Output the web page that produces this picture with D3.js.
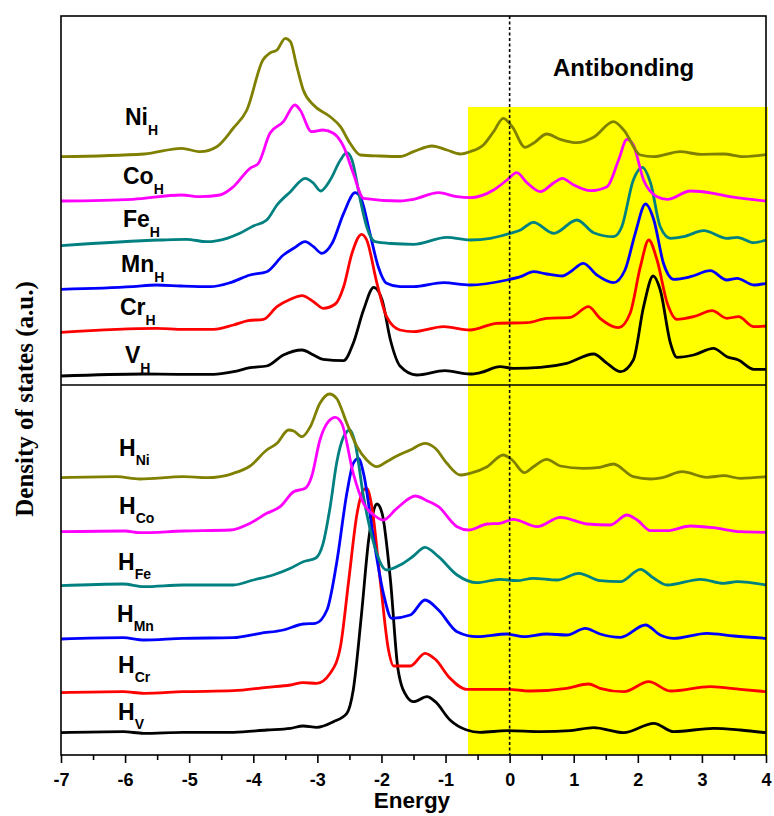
<!DOCTYPE html>
<html>
  <head>
    <script src="https://d3js.org/d3.v7.min.js" charset="utf-8"></script>
    <meta charset="UTF-8">
    <title>DOS stack</title>
    <style>
      body { margin: 0; background: #fff; }
      text { font-family: "Liberation Sans", Arial, sans-serif; font-weight: bold; }
    </style>
  </head>
  <body>
    <svg class="chart"></svg>
    <script type="text/javascript">

     // energy (eV) vs shifted DOS (a.u.)
     var niH = [[-7,22.83],[-5.7,23.1],[-5.12,23.67],[-4.83,23.33],[-4.57,23.83],[-4.31,25.7],[-4.1,27.5],[-3.85,32.5],[-3.74,33.2],[-3.63,33.5],[-3.5,34.67],[-3.42,34.33],[-3.32,31.83],[-3.22,29.5],[-3.06,28.0],[-2.8,26.83],[-2.64,25.83],[-2.49,24.17],[-2.33,23.0],[-2.02,22.9],[-1.71,22.85],[-1.5,23.33],[-1.21,23.9],[-0.98,23.5],[-0.77,23.1],[-0.62,23.33],[-0.41,24.0],[-0.25,25.33],[-0.1,26.67],[0.04,25.83],[0.24,23.77],[0.37,24.17],[0.58,25.1],[0.79,24.57],[1.05,24.23],[1.31,24.77],[1.62,26.33],[1.78,25.5],[2.04,23.0],[2.25,22.83],[2.66,23.33],[2.98,23.07],[3.34,23.1],[3.65,22.83],[4,23.03]];
     var coH = [[-7,18.4],[-5.88,18.57],[-5.12,19.0],[-4.83,18.83],[-4.52,19.0],[-4.31,19.83],[-4.05,21.67],[-3.92,22.17],[-3.74,25.17],[-3.53,26.33],[-3.35,28.0],[-3.27,27.5],[-3.09,25.33],[-2.91,25.5],[-2.75,25.17],[-2.59,23.83],[-2.44,21.17],[-2.28,18.67],[-1.71,18.4],[-1.5,18.57],[-1.11,19.23],[-0.82,18.83],[-0.62,18.73],[-0.25,19.5],[-0.04,20.5],[0.11,21.23],[0.27,20.23],[0.48,19.33],[0.69,20.23],[0.82,20.67],[1.0,20.0],[1.26,19.43],[1.52,19.83],[1.7,22.5],[1.83,24.57],[1.93,24.0],[2.09,20.5],[2.3,18.83],[2.46,18.57],[2.82,19.4],[3.18,19.17],[3.44,18.83],[4,18.4]];
     var feH = [[-7,13.93],[-5.45,14.5],[-5.04,14.57],[-4.73,14.33],[-4.41,14.67],[-4.21,15.17],[-4.0,15.9],[-3.79,16.5],[-3.63,18.0],[-3.42,19.33],[-3.19,20.67],[-3.06,20.17],[-2.95,19.4],[-2.8,20.5],[-2.64,22.5],[-2.54,23.23],[-2.46,22.5],[-2.33,18.5],[-2.23,15.83],[-2.1,14.33],[-1.85,14.15],[-1.5,14.07],[-0.98,14.77],[-0.62,14.5],[-0.3,14.67],[0.01,15.17],[0.17,15.5],[0.37,16.27],[0.69,15.17],[1.05,16.5],[1.31,15.23],[1.62,14.83],[1.75,15.83],[1.93,20.5],[2.07,21.77],[2.2,20.17],[2.35,15.83],[2.51,14.67],[2.71,14.83],[3.03,15.43],[3.39,14.67],[3.55,14.77],[3.81,14.23],[4,14.5]];
     var mnH = [[-7,9.57],[-5.88,9.83],[-5.51,10.0],[-5.13,9.9],[-4.67,9.83],[-4.36,10.23],[-4.05,11.0],[-3.79,11.33],[-3.53,13.0],[-3.37,13.67],[-3.19,14.33],[-3.06,13.83],[-2.93,13.17],[-2.77,14.17],[-2.59,17.17],[-2.41,19.23],[-2.31,18.5],[-2.18,15.17],[-2.05,11.83],[-1.92,10.17],[-1.71,9.83],[-1.5,9.83],[-1.03,10.23],[-0.62,10.0],[-0.04,10.5],[0.17,10.83],[0.37,11.33],[0.58,11.1],[0.82,10.9],[0.95,11.33],[1.15,12.17],[1.36,11.0],[1.62,10.23],[1.8,11.5],[1.96,15.17],[2.12,18.1],[2.25,16.5],[2.4,12.17],[2.56,10.57],[2.82,10.83],[3.13,11.43],[3.39,10.5],[3.55,10.67],[3.81,10.0],[4,10.17]];
     var crH = [[-7,5.27],[-5.51,5.67],[-5.09,5.57],[-4.62,5.57],[-4.31,6.0],[-4.08,6.43],[-3.84,6.57],[-3.63,7.83],[-3.42,8.57],[-3.24,8.93],[-3.06,8.33],[-2.91,7.67],[-2.72,8.1],[-2.59,9.83],[-2.46,13.17],[-2.31,15.07],[-2.23,14.5],[-2.07,10.17],[-1.92,6.83],[-1.71,5.5],[-1.5,5.33],[-1.03,5.83],[-0.62,5.5],[-0.2,6.17],[0.27,6.23],[0.58,6.67],[0.95,6.77],[1.23,7.83],[1.41,6.67],[1.7,5.73],[1.88,7.17],[2.04,11.83],[2.17,14.5],[2.3,12.5],[2.46,8.17],[2.61,6.57],[2.87,6.83],[3.16,7.43],[3.39,6.67],[3.57,6.83],[3.81,5.83],[4,5.9]];
     var vH = [[-7,0.9],[-5.71,1.1],[-5.18,1.07],[-4.62,1.07],[-4.31,1.33],[-4.05,1.73],[-3.79,1.9],[-3.53,3.0],[-3.24,3.5],[-3.06,3.0],[-2.91,2.57],[-2.59,2.43],[-2.44,4.17],[-2.28,7.5],[-2.12,9.77],[-1.99,8.5],[-1.86,4.5],[-1.71,1.9],[-1.45,1.0],[-1.01,1.43],[-0.62,1.1],[-0.46,1.23],[-0.15,1.83],[0.06,1.67],[0.48,1.77],[0.89,2.17],[1.31,3.1],[1.52,2.17],[1.73,1.33],[1.93,2.5],[2.09,7.83],[2.24,10.9],[2.35,9.5],[2.51,4.17],[2.61,2.77],[2.87,3.0],[3.18,3.67],[3.39,2.83],[3.57,2.5],[3.81,1.57],[4,1.57]];

     var hNi = [[-7,27.73],[-6.13,27.83],[-5.77,27.6],[-5.09,27.83],[-4.72,27.73],[-4.31,28.17],[-4.05,28.9],[-3.79,30.5],[-3.63,31.17],[-3.45,32.5],[-3.37,32.4],[-3.24,31.83],[-3.11,32.83],[-2.96,35.17],[-2.81,36.1],[-2.7,35.67],[-2.54,33.17],[-2.38,30.83],[-2.23,29.5],[-2.07,28.83],[-1.92,29.33],[-1.76,29.9],[-1.55,30.5],[-1.32,31.17],[-1.16,30.67],[-0.98,29.17],[-0.77,28.0],[-0.62,28.17],[-0.35,28.83],[-0.1,30.0],[0.04,29.5],[0.23,28.23],[0.37,28.83],[0.58,29.57],[0.79,28.9],[1.15,28.67],[1.41,28.77],[1.62,29.1],[1.93,27.83],[2.2,27.6],[2.4,27.77],[2.69,28.33],[3.08,27.77],[3.34,27.93],[3.6,27.67],[4,27.83]];
     var hCo = [[-7,22.33],[-6.0,22.4],[-5.77,22.23],[-5.09,22.4],[-4.36,22.5],[-4.05,23.17],[-3.79,24.17],[-3.58,24.83],[-3.37,26.33],[-3.19,26.67],[-3.09,27.83],[-2.96,31.5],[-2.83,33.33],[-2.72,33.77],[-2.62,33.17],[-2.44,28.17],[-2.28,25.17],[-2.12,24.0],[-1.97,23.5],[-1.76,24.67],[-1.47,25.9],[-1.29,25.43],[-1.11,24.83],[-0.82,22.83],[-0.64,22.5],[-0.35,23.1],[-0.15,23.17],[0.06,23.57],[0.43,22.83],[0.79,23.77],[1.21,23.1],[1.57,23.0],[1.83,24.0],[1.99,23.5],[2.2,22.43],[2.46,22.43],[2.82,22.9],[3.18,22.73],[3.6,22.33],[4,22.27]];
     var hFe = [[-7,16.93],[-6.03,17.1],[-5.71,16.83],[-5.09,17.0],[-4.31,17.0],[-4.0,17.5],[-3.69,18.0],[-3.42,18.67],[-3.22,19.33],[-3.03,19.67],[-2.91,21.17],[-2.8,24.83],[-2.7,29.17],[-2.59,31.83],[-2.49,32.5],[-2.41,31.17],[-2.28,25.83],[-2.12,21.17],[-1.92,18.5],[-1.71,19.0],[-1.5,19.9],[-1.32,20.77],[-1.11,19.83],[-0.82,18.0],[-0.51,17.23],[-0.15,17.57],[0.11,17.43],[0.37,17.67],[0.74,17.5],[1.08,18.17],[1.41,17.43],[1.73,17.33],[2.04,18.57],[2.25,17.67],[2.46,17.0],[2.98,17.57],[3.34,17.17],[3.55,17.33],[4,17.0]];
     var hMn = [[-7,11.6],[-6.03,11.73],[-5.71,11.5],[-5.09,11.67],[-4.31,11.73],[-3.89,12.17],[-3.53,12.5],[-3.22,13.1],[-3.03,13.17],[-2.85,14.5],[-2.7,19.17],[-2.54,26.17],[-2.44,29.17],[-2.36,29.67],[-2.28,28.17],[-2.12,21.5],[-1.97,16.17],[-1.84,13.67],[-1.55,14.0],[-1.32,15.5],[-1.11,14.5],[-0.82,12.33],[-0.51,11.83],[-0.04,12.1],[0.22,11.83],[0.58,12.1],[0.89,12.0],[1.18,12.67],[1.41,12.1],[1.73,11.77],[2.12,13.0],[2.35,12.0],[2.56,11.67],[3.08,12.17],[3.5,11.9],[4,11.67]];
     var hCr = [[-7,6.23],[-6.03,6.33],[-5.71,6.17],[-5.09,6.33],[-4.31,6.43],[-3.79,6.77],[-3.42,7.0],[-3.22,7.23],[-3.01,7.17],[-2.8,8.17],[-2.64,10.83],[-2.51,17.5],[-2.38,24.17],[-2.28,26.5],[-2.23,26.67],[-2.15,24.83],[-2.02,17.5],[-1.89,10.5],[-1.81,8.9],[-1.55,8.9],[-1.32,10.17],[-1.16,9.57],[-0.93,7.67],[-0.67,6.57],[-0.04,6.57],[0.32,6.4],[0.89,6.67],[1.23,7.1],[1.41,6.67],[1.78,6.33],[2.17,7.33],[2.51,6.4],[3.13,6.83],[3.6,6.57],[4,6.33]];
     var hV = [[-7,2.23],[-6.03,2.33],[-5.71,2.17],[-5.09,2.27],[-4.31,2.27],[-3.79,2.5],[-3.42,2.67],[-3.22,2.9],[-3.01,2.77],[-2.75,3.33],[-2.54,4.17],[-2.44,6.5],[-2.31,14.17],[-2.2,21.5],[-2.12,24.5],[-2.07,25.1],[-1.99,24.17],[-1.86,17.5],[-1.74,8.5],[-1.6,5.8],[-1.5,5.33],[-1.29,5.83],[-1.16,5.33],[-0.93,3.5],[-0.67,2.5],[-0.46,2.27],[-0.04,2.43],[0.48,2.33],[0.95,2.43],[1.31,2.73],[1.78,2.23],[2.25,3.17],[2.56,2.33],[3.18,2.67],[3.6,2.5],[4,2.23]];

     var metals = ["V", "Cr", "Mn", "Fe", "Co", "Ni"];
     var energyTicks = [-7, -6, -5, -4, -3, -2, -1, 0, 1, 2, 3, 4];
     var antibondingFrom = -0.65;

     var width = 774,
         height = 816,
         plotLeft = 61, plotRight = 766,
         plotTop = 16, plotMid = 385, plotBottom = 755;

     var colors = ["#000000", "#ff0000", "#0000ff", "#008080", "#ff00ff", "#808000"];
     var topSeries = [vH, crH, mnH, feH, coH, niH];
     var botSeries = [hV, hCr, hMn, hFe, hCo, hNi];

     var chart = d3.select(".chart")
                   .attr("width", width)
                   .attr("height", height);

     var x = d3.scaleLinear().domain([-7, 4]).range([plotLeft, plotRight]);
     var yTop = d3.scaleLinear().domain([0, 36.9]).range([plotMid, plotTop]);
     var yBot = d3.scaleLinear().domain([0, 37]).range([plotBottom, plotMid]);

     // yellow antibonding box
     chart.append("rect")
          .attr("x", x(antibondingFrom))
          .attr("y", yTop(27.8))
          .attr("width", x(4) - x(antibondingFrom) + 2)
          .attr("height", plotBottom - yTop(27.8))
          .attr("fill", "#ffff00");

     function drawPanel(series, yScale) {
         var line = d3.line()
                      .x(function(d) { return x(d[0]); })
                      .y(function(d) { return yScale(d[1]); })
                      .curve(d3.curveMonotoneX);
         chart.append("g")
              .selectAll("path")
              .data(series)
              .enter().append("path")
              .attr("d", line)
              .attr("fill", "none")
              .attr("stroke", function(d, i) { return colors[i]; })
              .attr("stroke-width", 2.8)
              .attr("stroke-linejoin", "round");
     }
     drawPanel(topSeries, yTop);
     drawPanel(botSeries, yBot);

     // Fermi level
     chart.append("line")
          .attr("x1", x(0)).attr("x2", x(0))
          .attr("y1", plotTop).attr("y2", plotBottom)
          .attr("stroke", "#000")
          .attr("stroke-width", 1.6)
          .attr("stroke-dasharray", "3,2.5");

     // frame and panel divider
     chart.append("rect")
          .attr("x", plotLeft).attr("y", plotTop)
          .attr("width", plotRight - plotLeft).attr("height", plotBottom - plotTop)
          .attr("fill", "none").attr("stroke", "#000").attr("stroke-width", 1.6);
     chart.append("line")
          .attr("x1", plotLeft).attr("x2", plotRight)
          .attr("y1", plotMid).attr("y2", plotMid)
          .attr("stroke", "#000").attr("stroke-width", 1.6);

     // axes
     var xAxis = chart.append("g")
                      .attr("transform", "translate(0," + plotBottom + ")")
                      .call(d3.axisBottom(x).tickValues(energyTicks).tickSize(8).tickPadding(10)
                              .tickFormat(function(d) { return String(d); }));
     xAxis.select(".domain").remove();
     xAxis.selectAll("line").attr("stroke-width", 1.6);
     xAxis.selectAll("text")
          .style("font-family", "'Liberation Sans', Arial, sans-serif")
          .style("font-weight", "bold")
          .style("font-size", "18px")
          .attr("fill", "#000");

     var minor = chart.append("g")
                      .attr("transform", "translate(0," + plotBottom + ")")
                      .call(d3.axisBottom(x).tickValues(energyTicks.slice(1).map(function(d) { return d - 0.5; }))
                              .tickSize(5).tickFormat(""));
     minor.select(".domain").remove();
     minor.selectAll("line").attr("stroke-width", 1.6);

     chart.append("text")
          .attr("x", 412)
          .attr("y", 808)
          .attr("text-anchor", "middle")
          .style("font-size", "22.5px")
          .text("Energy");

     chart.append("text")
          .attr("transform", "translate(33,399) rotate(-90)")
          .attr("text-anchor", "middle")
          .style("font-family", "'Liberation Serif', 'Times New Roman', serif")
          .style("font-size", "25px")
          .text("Density of states (a.u.)");

     chart.append("text")
          .attr("x", 553)
          .attr("y", 76)
          .style("font-size", "24px")
          .text("Antibonding");

     // series labels
     var topPos = [[125, 363], [120, 315], [121, 272], [123, 227], [123, 184], [125, 125]];
     var botPos = [[118, 720], [118, 673], [117, 622], [118, 570], [119, 514], [119, 456]];

     metals.forEach(function(m, i) {
         var t = chart.append("text")
                      .attr("x", topPos[i][0]).attr("y", topPos[i][1])
                      .style("font-size", "23px");
         t.append("tspan").text(m);
         t.append("tspan").attr("dy", 10).style("font-size", "14px").text("H");

         var b = chart.append("text")
                      .attr("x", botPos[i][0]).attr("y", botPos[i][1])
                      .style("font-size", "23px");
         b.append("tspan").text("H");
         b.append("tspan").attr("dy", 9).style("font-size", "14px").text(m);
     });

    </script>
  </body>
</html>
